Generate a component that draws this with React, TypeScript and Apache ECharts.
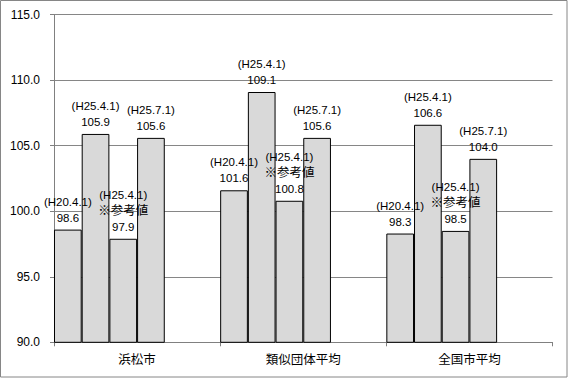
import React, { useEffect, useRef } from "react";
import * as echarts from "echarts";

const categories = ["浜松市", "類似団体平均", "全国市平均"];
const seriesNames = ["H20.4.1", "H25.4.1", "H25.4.1 参考値", "H25.7.1"];
const labelPrefixes = ["(H20.4.1)", "(H25.4.1)", "(H25.4.1)\n{ref|※参考値}", "(H25.7.1)"];
const valuesH20 = [98.6, 101.6, 98.3];
const valuesH25 = [105.9, 109.1, 106.6];
const valuesH25Ref = [97.9, 100.8, 98.5];
const valuesH257 = [105.6, 105.6, 104.0];
const yTicks = { min: 90, max: 115, interval: 5 };

const FONT = '"Liberation Sans", "Noto Sans CJK JP", sans-serif';

export default function App() {
  const ref = useRef<HTMLDivElement>(null);
  useEffect(() => {
    if (!ref.current) return;
    const chart = echarts.init(ref.current, null, { renderer: "svg" });
    const allValues = [valuesH20, valuesH25, valuesH25Ref, valuesH257];
    const barSeries: any[] = allValues.map((vals, i) => ({
      name: seriesNames[i],
      type: "bar",
      data: vals,
      barGap: "0%",
      barCategoryGap: "0%",
      itemStyle: { color: "#d9d9d9", borderColor: "#000", borderWidth: 1 },
      label: {
        show: true,
        position: "top",
        distance: 4,
        color: "#000",
        fontSize: 11.5,
        fontFamily: FONT,
        lineHeight: 16,
        align: "center",
        formatter: (p: any) => `${labelPrefixes[i]}\n${Number(p.value).toFixed(1)}`,
        rich: {
          ref: { fontSize: 12.5, lineHeight: 16, fontFamily: FONT, color: "#000" },
        },
      },
    }));
    // two empty slots that reserve space to the right of each group
    barSeries.push(
      { name: "empty1", type: "bar", data: [null, null, null], barGap: "0%", barCategoryGap: "0%" },
      { name: "empty2", type: "bar", data: [null, null, null], barGap: "0%", barCategoryGap: "0%" }
    );
    chart.setOption({
      animation: false,
      grid: { left: 54, right: 18.5, top: 14.7, bottom: 38.7 },
      xAxis: {
        type: "category",
        data: categories,
        axisLine: { lineStyle: { color: "#808080", width: 1 } },
        axisTick: { show: true, length: 4, lineStyle: { color: "#808080" } },
        axisLabel: { color: "#000", fontSize: 12.5, fontFamily: FONT, margin: 11 },
      },
      yAxis: {
        type: "value",
        min: yTicks.min,
        max: yTicks.max,
        interval: yTicks.interval,
        axisLine: { show: true, lineStyle: { color: "#808080", width: 1 } },
        axisTick: { show: true, length: 4, lineStyle: { color: "#808080" } },
        axisLabel: {
          color: "#000",
          fontSize: 12,
          fontFamily: FONT,
          margin: 14,
          formatter: (v: number) => v.toFixed(1),
        },
        splitLine: { show: true, lineStyle: { color: "#868686", width: 1 } },
      },
      series: barSeries,
      graphic: [
        {
          type: "rect",
          shape: { x: 0.5, y: 0.5, width: 566.5, height: 376.5 },
          style: { fill: "none", stroke: "#868686", lineWidth: 1 },
          silent: true,
        },
      ],
    });
    return () => chart.dispose();
  }, []);
  return (
    <div
      ref={ref}
      style={{ position: "absolute", left: 0, top: 0, width: 571, height: 381, background: "#fff" }}
    />
  );
}
